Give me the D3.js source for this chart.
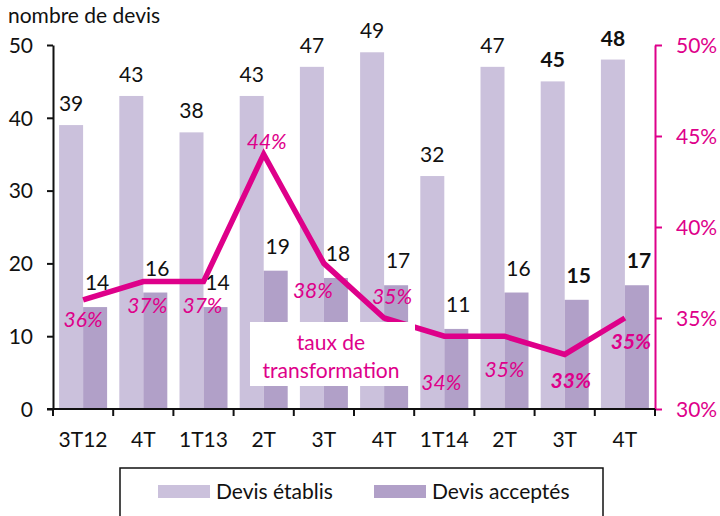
<!DOCTYPE html>
<html lang="fr">
<head>
<meta charset="UTF-8">
<title>Devis établis et acceptés</title>
<script src="https://cdnjs.cloudflare.com/ajax/libs/d3/7.8.5/d3.min.js"></script>
<style>
  body { margin: 0; background: #fff; }
  svg text { font-family: Lato, "Open Sans", sans-serif; }
</style>
</head>
<body>
<svg id="chart" width="720" height="516"></svg>
<script>
// données
var quarters = ["3T12", "4T", "1T13", "2T", "3T", "4T", "1T14", "2T", "3T", "4T"];
var devisEtablis = [39, 43, 38, 43, 47, 49, 32, 47, 45, 48];
var devisAcceptes = [14, 16, 14, 19, 18, 17, 11, 16, 15, 17];
var tauxTransfo = [36, 37, 37, 44, 38, 35, 34, 34, 33, 35];
var tauxLabels = ["36%", "37%", "37%", "44%", "38%", "35%", "34%", "35%", "33%", "35%"];
var leftTicks = [0, 10, 20, 30, 40, 50];
var rightTicks = [30, 35, 40, 45, 50];

// placement des étiquettes % (décalage par rapport au point)
var pctDx = [0, 4, -1, 3, -11, 8, -3, 0, 6, 6];
var pctDy = [27, 31, 31, -5, 35, -14, 54, 41, 34, 31];

var colEtablis = "#cbc1dc";
var colAcceptes = "#b1a0c8";
var magenta = "#de008a";
var fs = 21;

var svg = d3.select("#chart");
var x0 = 53, x1 = 655, yTop = 45, yBot = 409;

var band = d3.scaleBand().domain(d3.range(quarters.length)).range([x0, x1]);
var y = d3.scaleLinear().domain([0, 50]).range([yBot, yTop]);
var yR = d3.scaleLinear().domain([30, 50]).range([yBot, yTop]);

// titre axe
svg.append("text").attr("x", 8).attr("y", 23).attr("font-size", fs).attr("fill", "#111").text("nombre de devis");

// barres
var g = svg.append("g");
quarters.forEach(function(q, i) {
  var bx = band(i) + (band.bandwidth() - 48) / 2;
  g.append("rect").attr("x", bx).attr("width", 24)
    .attr("y", y(devisEtablis[i])).attr("height", yBot - y(devisEtablis[i])).attr("fill", colEtablis);
  g.append("rect").attr("x", bx + 24).attr("width", 24)
    .attr("y", y(devisAcceptes[i])).attr("height", yBot - y(devisAcceptes[i])).attr("fill", colAcceptes);
  var bold = i >= 8 ? "bold" : "normal";
  g.append("text").attr("x", bx + 12).attr("y", y(devisEtablis[i]) - 14)
    .attr("text-anchor", "middle").attr("font-size", fs).attr("font-weight", bold).attr("fill", "#111")
    .text(devisEtablis[i]);
  g.append("text").attr("x", bx + 38).attr("y", y(devisAcceptes[i]) - 17)
    .attr("text-anchor", "middle").attr("font-size", fs).attr("font-weight", bold).attr("fill", "#111")
    .text(devisAcceptes[i]);
});

// ligne taux de transformation
var cx = function(i) { return band(i) + band.bandwidth() / 2; };
var line = d3.line().x(function(d, i) { return cx(i); }).y(function(d) { return yR(d); });
svg.append("path").datum(tauxTransfo).attr("d", line)
  .attr("fill", "none").attr("stroke", magenta).attr("stroke-width", 5.5).attr("stroke-linejoin", "miter");

tauxTransfo.forEach(function(v, i) {
  svg.append("text").attr("x", cx(i) + pctDx[i]).attr("y", yR(v) + pctDy[i])
    .attr("text-anchor", "middle").attr("font-size", fs).attr("font-style", "italic")
    .attr("font-weight", i >= 8 ? "bold" : "normal").attr("fill", magenta)
    .text(tauxLabels[i]);
});

// cadre "taux de transformation"
svg.append("rect").attr("x", 250).attr("y", 322).attr("width", 165).attr("height", 64).attr("fill", "#fff");
svg.append("text").attr("x", 331).attr("y", 350).attr("text-anchor", "middle").attr("font-size", fs).attr("fill", magenta).text("taux de");
svg.append("text").attr("x", 331).attr("y", 378).attr("text-anchor", "middle").attr("font-size", fs).attr("fill", magenta).text("transformation");

// axe gauche
var axL = svg.append("g").attr("transform", "translate(" + x0 + ",0)")
  .call(d3.axisLeft(y).tickValues(leftTicks).tickSize(6).tickSizeOuter(0).tickPadding(14));
axL.select(".domain").attr("stroke", "#111").attr("stroke-width", 2);
axL.selectAll("line").attr("stroke", "#111").attr("stroke-width", 2);
axL.selectAll("text").attr("font-size", fs).attr("fill", "#111").attr("font-family", "Lato, sans-serif").attr("dy", "0.35em");

// axe droit
var axR = svg.append("g").attr("transform", "translate(" + x1 + ",0)")
  .call(d3.axisRight(yR).tickValues(rightTicks).tickSize(7).tickSizeOuter(0).tickPadding(14)
    .tickFormat(function(d) { return d + "%"; }));
axR.select(".domain").attr("stroke", magenta).attr("stroke-width", 2);
axR.selectAll("line").attr("stroke", magenta).attr("stroke-width", 2);
axR.selectAll("text").attr("font-size", fs).attr("fill", magenta).attr("font-family", "Lato, sans-serif").attr("dy", "0.35em");

// axe x
var axX = svg.append("g").attr("transform", "translate(0," + yBot + ")");
axX.append("line").attr("x1", x0 - 6).attr("x2", x1).attr("stroke", "#111").attr("stroke-width", 2);
d3.range(quarters.length + 1).forEach(function(i) {
  var tx = i < quarters.length ? band(i) : x1;
  axX.append("line").attr("x1", tx).attr("x2", tx).attr("y1", 0).attr("y2", 7).attr("stroke", "#111").attr("stroke-width", 2);
});
quarters.forEach(function(q, i) {
  axX.append("text").attr("x", cx(i)).attr("y", 38).attr("text-anchor", "middle")
    .attr("font-size", fs).attr("fill", "#111").text(q);
});

// légende
var lg = svg.append("g");
lg.append("rect").attr("x", 120).attr("y", 468).attr("width", 483).attr("height", 60)
  .attr("fill", "#fff").attr("stroke", "#111").attr("stroke-width", 1.5);
[["Devis établis", colEtablis, 158], ["Devis acceptés", colAcceptes, 374]].forEach(function(d) {
  lg.append("rect").attr("x", d[2]).attr("y", 485).attr("width", 52).attr("height", 13).attr("fill", d[1]);
  lg.append("text").attr("x", d[2] + 58).attr("y", 499).attr("font-size", fs).attr("fill", "#111").text(d[0]);
});
</script>
</body>
</html>
